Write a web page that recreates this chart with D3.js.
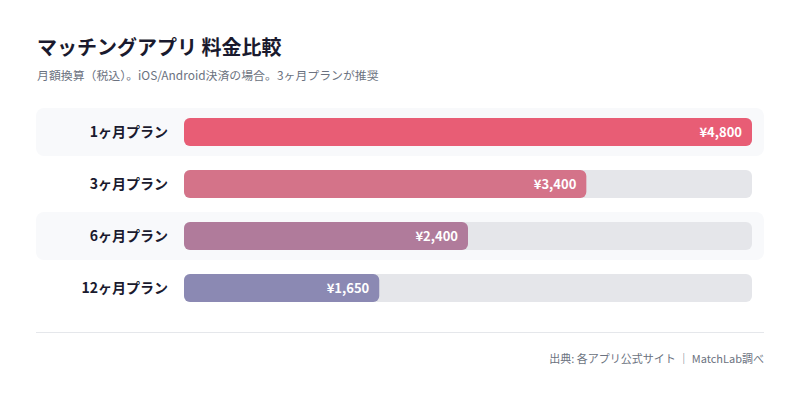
<!DOCTYPE html>
<html>
<head>
<meta charset="utf-8">
<script src="https://cdn.jsdelivr.net/npm/d3@7"></script>
<style>
  body { margin: 0; background: #fff; font-family: "Noto Sans CJK JP", "Noto Sans", sans-serif; }
</style>
</head>
<body>
<div id="chart"></div>
<script>
// data
var plans = ["1ヶ月プラン", "3ヶ月プラン", "6ヶ月プラン", "12ヶ月プラン"];
var prices = [4800, 3400, 2400, 1650];
var barColors = ["#e85d75", "#d47389", "#b07b9b", "#8b89b3"];

var width = 800, height = 401;
var left = 184, right = 752;
var rowTop = 108, rowStep = 52;

var svg = d3.select("#chart").append("svg")
    .attr("width", width).attr("height", height);

svg.append("text").attr("x", 37).attr("y", 55)
    .attr("font-size", 20).attr("font-weight", 700).attr("fill", "#1a1a2e")
    .text("マッチングアプリ 料金比較");
svg.append("text").attr("x", 37).attr("y", 80)
    .attr("font-size", 11.9).attr("fill", "#6b7280")
    .text("月額換算（税込）。iOS/Android決済の場合。3ヶ月プランが推奨");

var x = d3.scaleLinear().domain([0, d3.max(prices)]).range([left, right]);
var y = d3.scaleBand().domain(plans).range([rowTop, rowTop + rowStep * plans.length]);

var rows = svg.selectAll(".row").data(plans).enter().append("g").attr("class", "row")
    .attr("transform", function(d) { return "translate(0," + y(d) + ")"; });

// alternating background bands
rows.filter(function(d, i) { return i % 2 == 0; })
    .append("rect").attr("x", 36).attr("y", 0).attr("width", 728).attr("height", 48)
    .attr("rx", 8).attr("fill", "#f8f9fb");

rows.append("rect").attr("x", left).attr("y", 10)
    .attr("width", right - left).attr("height", 28).attr("rx", 6)
    .attr("fill", "#e5e6ea");

rows.append("rect").attr("x", left).attr("y", 10)
    .attr("width", function(d, i) { return x(prices[i]) - left; })
    .attr("height", 28).attr("rx", 6)
    .attr("fill", function(d, i) { return barColors[i]; });

rows.append("text").attr("x", 168).attr("y", 29)
    .attr("text-anchor", "end").attr("font-size", 14).attr("font-weight", 700)
    .attr("fill", "#1a1a2e").text(function(d) { return d; });

rows.append("text")
    .attr("x", function(d, i) { return x(prices[i]) - 10; }).attr("y", 29)
    .attr("text-anchor", "end").attr("font-size", 13).attr("font-weight", 700)
    .attr("fill", "#fff").text(function(d, i) { return "¥" + d3.format(",")(prices[i]); });

svg.append("line").attr("x1", 36).attr("x2", 764).attr("y1", 332.5).attr("y2", 332.5)
    .attr("stroke", "#e5e7eb");

svg.append("text").attr("x", 764).attr("y", 363)
    .attr("text-anchor", "end").attr("font-size", 11).attr("fill", "#6b7280")
    .text("出典: 各アプリ公式サイト ｜ MatchLab調べ");
</script>
</body>
</html>
